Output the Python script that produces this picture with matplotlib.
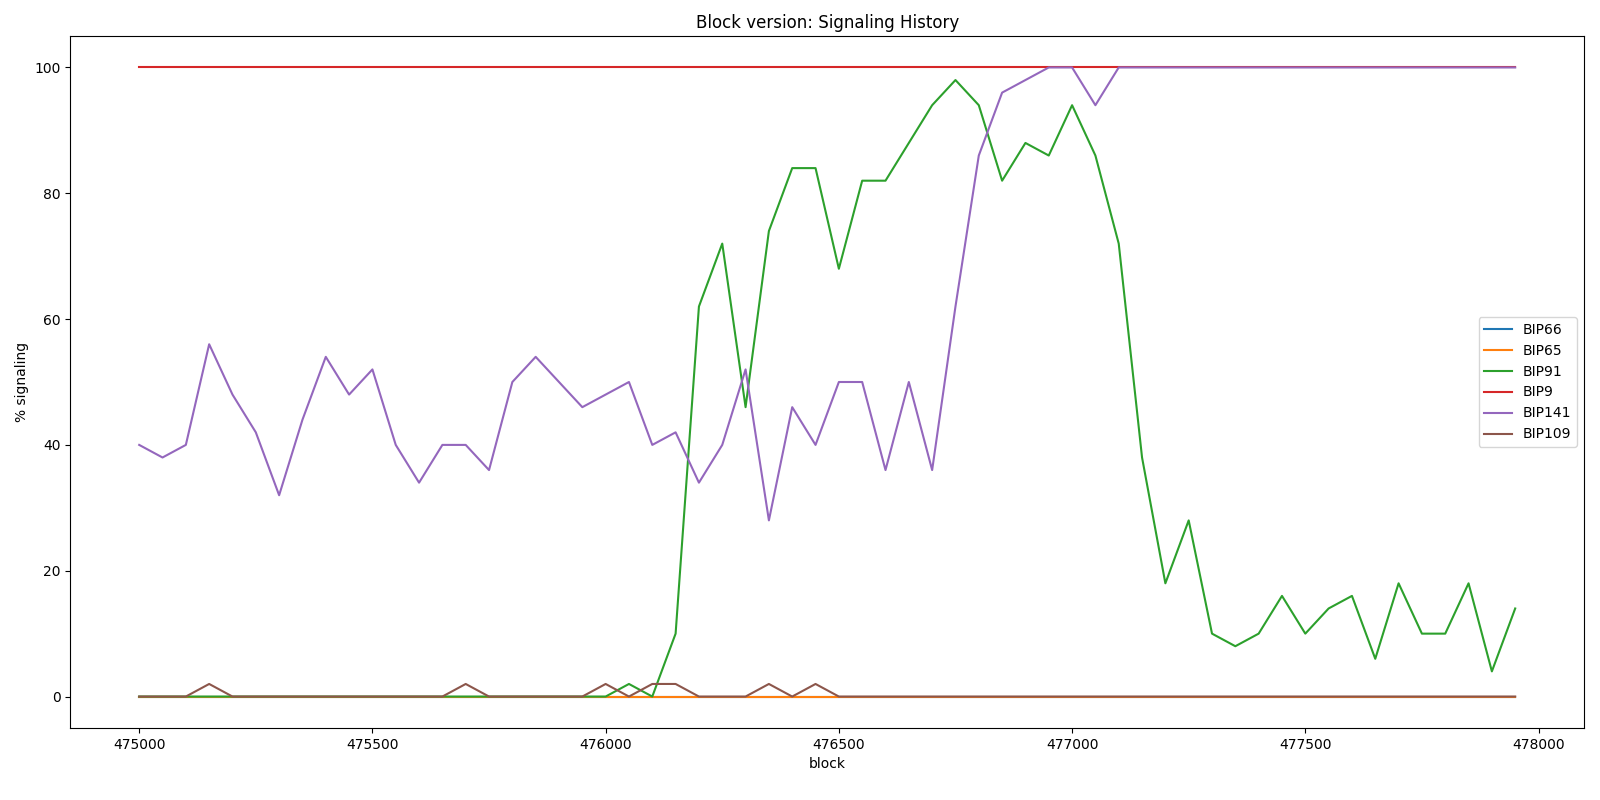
import numpy as np
from matplotlib import pyplot as plt

blocks = list(range(475000, 478000, 50))

bip66 = [0] * 60
bip65 = [0] * 60
bip9 = [100] * 60
bip91 = [0] * 21 + [2, 0, 10, 62, 72, 46, 74, 84, 84, 68, 82, 82, 88, 94, 98, 94, 82, 88, 86,
                    94, 86, 72, 38, 18, 28, 10, 8, 10, 16, 10, 14, 16, 6, 18, 10, 10, 18, 4, 14]
bip141 = [40, 38, 40, 56, 48, 42, 32, 44, 54, 48, 52, 40, 34, 40, 40, 36, 50, 54, 50, 46,
          48, 50, 40, 42, 34, 40, 52, 28, 46, 40, 50, 50, 36, 50, 36, 62, 86, 96, 98, 100,
          100, 94, 100] + [100] * 17
bip109 = [0] * 60
for b in (475150, 475700, 476000, 476100, 476150, 476350, 476450):
    bip109[blocks.index(b)] = 2

fig, ax = plt.subplots(figsize=(16, 8), dpi=100)
ax.plot(blocks, bip66, label="BIP66")
ax.plot(blocks, bip65, label="BIP65")
ax.plot(blocks, bip91, label="BIP91")
ax.plot(blocks, bip9, label="BIP9")
ax.plot(blocks, bip141, label="BIP141")
ax.plot(blocks, bip109, label="BIP109")
ax.set_title("Block version: Signaling History")
ax.set_xlabel("block")
ax.set_ylabel("% signaling")
ax.legend(loc="center right")
plt.subplots_adjust(left=0.044, right=0.99, top=0.955, bottom=0.09)
plt.savefig("out.png")
